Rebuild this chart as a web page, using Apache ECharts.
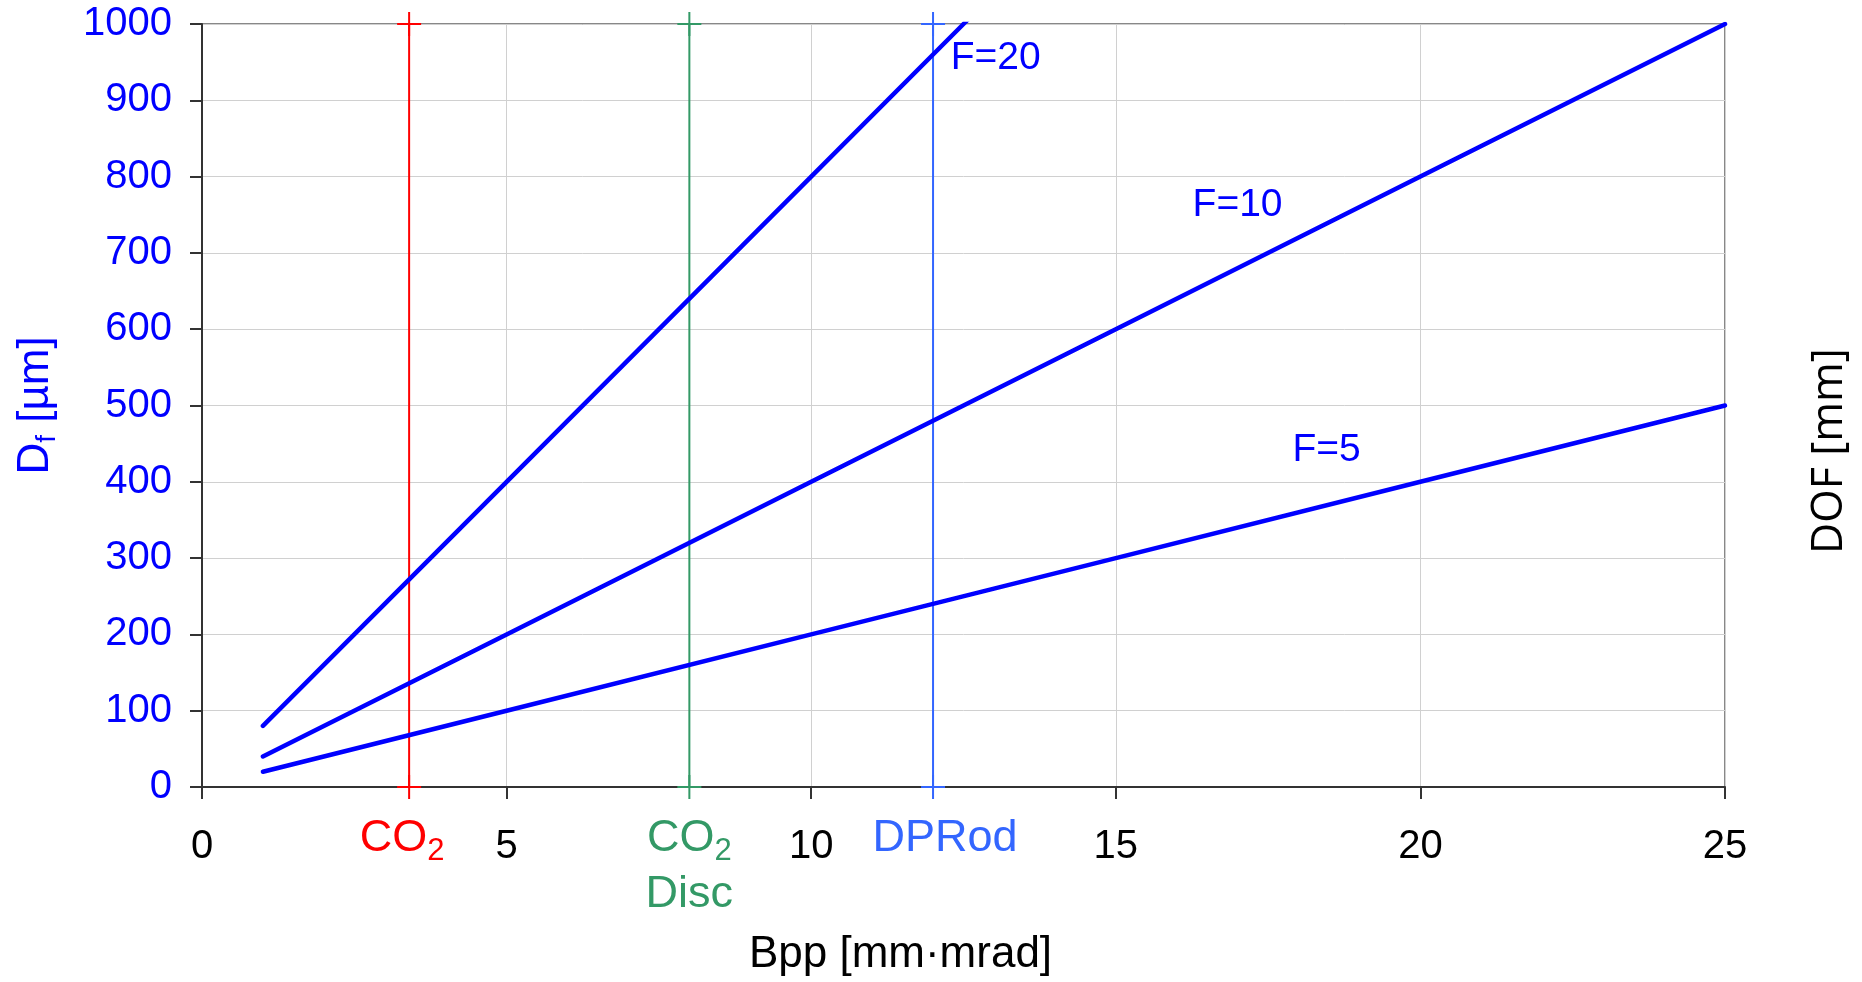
<!DOCTYPE html>
<html>
<head>
<meta charset="utf-8">
<script src="https://cdn.jsdelivr.net/npm/echarts@6/dist/echarts.min.js"></script>
<style>html,body{margin:0;padding:0;background:#fff}#chart{width:1862px;height:982px}</style>
</head>
<body>
<div id="chart"></div>
<script>
// curves: focus diameter vs beam parameter product for three F-numbers
var bpp = [1, 5, 10, 15, 20, 25];
var dfF5 = [20, 100, 200, 300, 400, 500];
var dfF10 = [40, 200, 400, 600, 800, 1000];
var bppF20 = [1, 5, 10, 12.5, 13];
var dfF20 = [80, 400, 800, 1000, 1040];
var curveNames = ['F=5', 'F=10', 'F=20'];
var curveLabelAt = [[17.9, 441], [16.26, 763], [12.29, 955]];

// laser sources marked as vertical lines
var sourceBpp = [3.4, 8, 12];
var sourceLabels = ['{m|CO}{s|2}', '{m|CO}{s|2}\n{m|Disc}', '{m|DPRod}'];
var sourceColors = ['#ff0000', '#339966', '#3366ff'];
var sourceOffsets = [[-7, 0], [0, 0], [12, 0]];

var FONT = 'Liberation Sans, Arial, sans-serif';
var BLUE = '#0000ff';

function pairs(xs, ys) {
  return xs.map(function (x, i) { return [x, ys[i]]; });
}

var curves = [pairs(bpp, dfF5), pairs(bpp, dfF10), pairs(bppF20, dfF20)];

var series = [];
curves.forEach(function (d, i) {
  series.push({
    name: curveNames[i],
    type: 'line',
    data: d,
    symbol: 'none',
    lineStyle: { color: BLUE, width: 4.5, cap: 'round' },
    z: 5,
    markPoint: {
      symbol: 'circle',
      symbolSize: 0,
      data: [{ coord: curveLabelAt[i] }],
      label: {
        show: true, position: 'right', distance: 0,
        formatter: curveNames[i],
        color: BLUE, fontSize: 39, fontFamily: FONT
      }
    }
  });
});

var plus = 'path://M0,11h24v2h-24z M11,0h2v24h-2z';
sourceBpp.forEach(function (x, i) {
  series.push({
    type: 'line',
    clip: false,
    data: [
      {
        value: [x, 0],
        label: {
          show: true, position: 'bottom', distance: 12,
          offset: sourceOffsets[i],
          formatter: sourceLabels[i],
          rich: {
            m: { color: sourceColors[i], fontSize: 45, lineHeight: 56, fontFamily: FONT },
            s: { color: sourceColors[i], fontSize: 31, lineHeight: 32, padding: [24, 0, 0, 0], fontFamily: FONT }
          }
        }
      },
      [x, 1000]
    ],
    symbol: plus,
    symbolSize: 24,
    showSymbol: true,
    itemStyle: { color: sourceColors[i] },
    lineStyle: { color: sourceColors[i], width: 2 },
    z: 3
  });
});

var chart = echarts.init(document.getElementById('chart'));
chart.setOption({
  animation: false,
  backgroundColor: '#fff',
  grid: {
    left: 202, right: 137, top: 24, bottom: 193,
    show: true, borderColor: '#888', borderWidth: 2
  },
  xAxis: {
    type: 'value', min: 0, max: 25, interval: 5,
    name: 'Bpp [mm·mrad]',
    nameLocation: 'middle', nameGap: 146,
    nameTextStyle: { color: '#000', fontSize: 44, fontFamily: FONT, padding: [0, 126, 0, 0] },
    axisLine: { lineStyle: { color: '#333', width: 2 } },
    axisTick: { show: true, length: 12, lineStyle: { color: '#333', width: 2 } },
    axisLabel: { color: '#000', fontSize: 40, fontFamily: FONT, margin: 40 },
    splitLine: { show: true, lineStyle: { color: '#d0d0d0', width: 1 } }
  },
  yAxis: [{
    type: 'value', min: 0, max: 1000, interval: 100,
    name: '{m|D}{s|f}{m| [µm]}',
    nameLocation: 'middle', nameGap: 139, nameRotate: 90,
    nameTextStyle: {
      rich: {
        m: { color: BLUE, fontSize: 44, lineHeight: 54, fontFamily: FONT },
        s: { color: BLUE, fontSize: 28, lineHeight: 32, padding: [22, 0, 0, 0], fontFamily: FONT }
      }
    },
    axisLine: { show: true, lineStyle: { color: '#333', width: 2 } },
    axisTick: { show: true, length: 12, lineStyle: { color: '#333', width: 2 } },
    axisLabel: { color: BLUE, fontSize: 40, fontFamily: FONT, margin: 30, formatter: function (v) { return String(v); } },
    splitLine: { show: true, lineStyle: { color: '#d0d0d0', width: 1 } }
  }],
  graphic: [{
    type: 'text',
    x: 1830, y: 451,
    rotation: Math.PI / 2,
    style: {
      text: 'DOF [mm]',
      fill: '#000',
      font: '43px "Open Sans", "DejaVu Sans", sans-serif',
      textAlign: 'center',
      textVerticalAlign: 'middle'
    }
  }],
  series: series
});
</script>
</body>
</html>
